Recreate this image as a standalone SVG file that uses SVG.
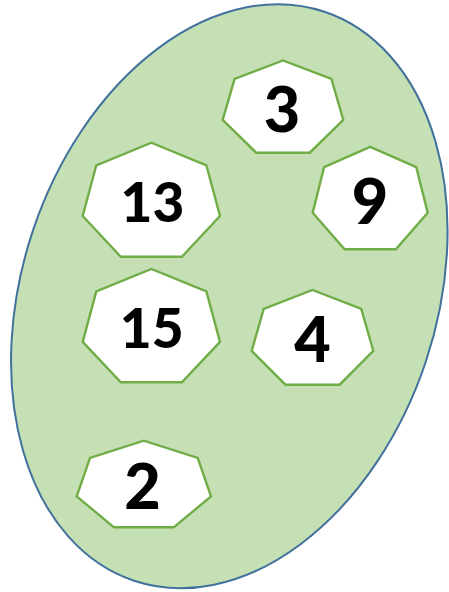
<svg xmlns="http://www.w3.org/2000/svg" width="449" height="592" viewBox="0 0 449 592">
<style>
.hep{fill:#FFFFFF;stroke:#70AD47;stroke-width:2.4;stroke-linejoin:miter}
.lbl{font-family:Lato,"Liberation Sans",sans-serif;font-weight:900;fill:#000000;text-anchor:middle}
.big{font-size:63px}
.mid{font-size:55px}
</style>
<rect width="449" height="592" fill="#FFFFFF"/>
<g id="set">
<ellipse cx="229.3" cy="296.3" rx="207.1" ry="300" transform="rotate(18.5 229.3 296.3)" fill="#C5E0B4" stroke="#41719C" stroke-width="2"/>
</g>
<g id="connectors"/>
<g id="node-3">
<polygon class="hep" points="222.7,119.8 234.6,78.8 283,60.5 331.4,78.8 343.3,119.8 309.8,152.7 256.2,152.7"/>
<text class="lbl big" x="282" y="131.7">3</text>
</g>
<g id="node-13">
<polygon class="hep" points="82.7,216 96.3,165.3 151.35,142.7 206.4,165.3 220,216 181.9,256.7 120.8,256.7"/>
<text class="lbl mid" x="152.5" y="221.7">13</text>
</g>
<g id="node-9">
<polygon class="hep" points="312.7,212.7 324.1,167.1 370.2,146.8 416.3,167.1 427.7,212.7 395.8,249.3 344.6,249.3"/>
<text class="lbl big" x="370" y="224">9</text>
</g>
<g id="node-15">
<polygon class="hep" points="82.7,341.9 96.3,291.4 151.35,269 206.4,291.4 220,341.9 181.9,382.3 120.8,382.3"/>
<text class="lbl mid" x="151.7" y="348.3">15</text>
</g>
<g id="node-4">
<polygon class="hep" points="251.7,350.9 263.7,308.8 312.5,290 361.3,308.8 373.3,350.9 339.6,384.7 285.4,384.7"/>
<text class="lbl big" x="312.5" y="362">4</text>
</g>
<g id="node-2">
<polygon class="hep" points="76.7,496.4 90,457.9 143.85,440.7 197.7,457.9 211,496.4 173.7,527.3 114,527.3"/>
<text class="lbl big" x="142.5" y="509">2</text>
</g>
</svg>
